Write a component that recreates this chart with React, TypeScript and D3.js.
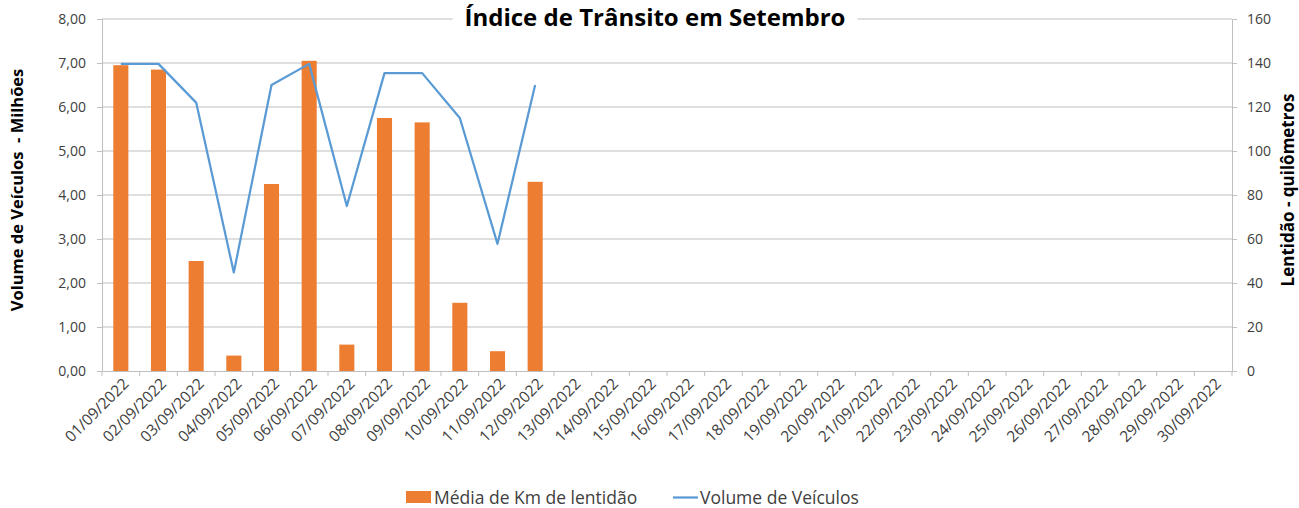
import React, { useEffect, useRef } from 'react'
import * as d3 from 'd3'

const W = 1299
const H = 508

const days = [
  '01/09/2022', '02/09/2022', '03/09/2022', '04/09/2022', '05/09/2022', '06/09/2022',
  '07/09/2022', '08/09/2022', '09/09/2022', '10/09/2022', '11/09/2022', '12/09/2022',
  '13/09/2022', '14/09/2022', '15/09/2022', '16/09/2022', '17/09/2022', '18/09/2022',
  '19/09/2022', '20/09/2022', '21/09/2022', '22/09/2022', '23/09/2022', '24/09/2022',
  '25/09/2022', '26/09/2022', '27/09/2022', '28/09/2022', '29/09/2022', '30/09/2022',
]
// km de lentidão (eixo direito)
const lentidao = [139, 137, 50, 7, 85, 141, 12, 115, 113, 31, 9, 86]
// volume de veículos em milhões (eixo esquerdo)
const volume = [6.98, 6.98, 6.1, 2.24, 6.5, 6.98, 3.75, 6.77, 6.77, 5.75, 2.89, 6.5]
const leftTicks = [0, 1, 2, 3, 4, 5, 6, 7, 8]
const rightTicks = [0, 20, 40, 60, 80, 100, 120, 140, 160]

const ORANGE = '#ED7D31'
const BLUE = '#5B9BD5'
const GRID = '#BFBFBF'
const TEXT = '#404040'
const FONT = '"Open Sans", Lato, sans-serif'

const App = () => {
  const ref = useRef<SVGSVGElement>(null)

  useEffect(() => {
    const svg = d3.select(ref.current)
    svg.selectAll('*').remove()

    const m = { left: 102, right: 1232, top: 19, bottom: 371 }

    const x = d3.scaleBand().domain(days).range([m.left, m.right]).paddingInner(0.6).paddingOuter(0.3)
    const xc = (d: string) => (x(d) as number) + x.bandwidth() / 2
    const step = x.step()
    const yL = d3.scaleLinear().domain([0, 8]).range([m.bottom, m.top])
    const yR = d3.scaleLinear().domain([0, 160]).range([m.bottom, m.top])

    // gridlines
    svg.append('g')
      .selectAll('line')
      .data(leftTicks.slice(1))
      .enter()
      .append('line')
      .attr('x1', m.left)
      .attr('x2', m.right)
      .attr('y1', (d) => yL(d))
      .attr('y2', (d) => yL(d))
      .attr('stroke', GRID)
      .attr('stroke-width', 1)

    // bars
    svg.append('g')
      .selectAll('rect')
      .data(lentidao)
      .enter()
      .append('rect')
      .attr('x', (d, i) => x(days[i]) as number)
      .attr('width', x.bandwidth())
      .attr('y', (d) => yR(d))
      .attr('height', (d) => yR(0) - yR(d))
      .style('fill', ORANGE)

    // line
    const line = d3.line<number>().x((d, i) => xc(days[i])).y((d) => yL(d))
    svg.append('path')
      .datum(volume)
      .attr('d', line)
      .attr('fill', 'none')
      .attr('stroke', BLUE)
      .attr('stroke-width', 2.25)
      .attr('stroke-linejoin', 'round')

    // axes
    const axisColor = GRID
    const left = svg.append('g').attr('transform', `translate(${m.left},0)`)
      .call(d3.axisLeft(yL).tickValues(leftTicks).tickSize(5).tickFormat((d) => d3.format('.2f')(d as number).replace('.', ',')))
    const right = svg.append('g').attr('transform', `translate(${m.right},0)`)
      .call(d3.axisRight(yR).tickValues(rightTicks).tickSize(5).tickPadding(10))
    const bottom = svg.append('g').attr('transform', `translate(0,${m.bottom})`)
      .call(d3.axisBottom(x).tickSize(0).tickPadding(8))

    for (const g of [left, right, bottom]) {
      g.select('.domain').attr('stroke', axisColor)
      g.selectAll('.tick line').attr('stroke', axisColor)
      g.selectAll('.tick text').attr('fill', TEXT).style('font-family', FONT).style('font-size', '14px')
    }
    left.selectAll('.tick text').attr('x', -16)

    bottom.selectAll('.tick text')
      .attr('text-anchor', 'end')
      .attr('dx', 0)
      .attr('dy', '0.35em')
      .attr('transform', 'translate(5,10) rotate(-45)')
      .attr('x', 0)
      .attr('y', 0)
      .style('font-size', '15.5px')

    // category boundary ticks
    bottom.append('g')
      .selectAll('line')
      .data(d3.range(days.length + 1))
      .enter()
      .append('line')
      .attr('x1', (i) => m.left + i * step)
      .attr('x2', (i) => m.left + i * step)
      .attr('y1', 0)
      .attr('y2', 5)
      .attr('stroke', axisColor)

    // title
    const titleBg = svg.append('rect').attr('fill', '#fff')
    const title = svg.append('text')
      .attr('x', 655)
      .attr('y', 26)
      .attr('text-anchor', 'middle')
      .style('font-family', FONT)
      .style('font-weight', 'bold')
      .style('font-size', '24px')
      .attr('fill', '#000')
      .text('Índice de Trânsito em Setembro')
    const bb = (title.node() as SVGTextElement).getBBox()
    titleBg
      .attr('x', bb.x - 12)
      .attr('y', bb.y)
      .attr('width', bb.width + 24)
      .attr('height', bb.height)

    // axis titles
    svg.append('text')
      .attr('transform', `translate(23,190) rotate(-90)`)
      .attr('text-anchor', 'middle')
      .style('font-family', FONT)
      .style('font-weight', 'bold')
      .style('font-size', '16.5px')
      .attr('fill', '#000')
      .style('white-space', 'pre')
      .text('Volume de Veículos  - Milhões')
    svg.append('text')
      .attr('transform', `translate(1294,190) rotate(-90)`)
      .attr('text-anchor', 'middle')
      .style('font-family', FONT)
      .style('font-weight', 'bold')
      .style('font-size', '17px')
      .attr('fill', '#000')
      .text('Lentidão - quilômetros')

    // legend
    const lg = svg.append('g').style('font-family', FONT).style('font-size', '17.5px').attr('fill', TEXT)
    lg.append('rect').attr('x', 406).attr('y', 491).attr('width', 25).attr('height', 12).attr('fill', ORANGE)
    lg.append('text').attr('x', 434).attr('y', 504).text('Média de Km de lentidão')
    lg.append('line').attr('x1', 673).attr('x2', 698).attr('y1', 497.5).attr('y2', 497.5).attr('stroke', BLUE).attr('stroke-width', 2.25)
    lg.append('text').attr('x', 700).attr('y', 504).text('Volume de Veículos')
  }, [])

  return (
    <svg
      ref={ref}
      width={W}
      height={H}
      style={{ position: 'absolute', left: 0, top: 0, background: '#fff' }}
    ></svg>
  )
}

export default App
